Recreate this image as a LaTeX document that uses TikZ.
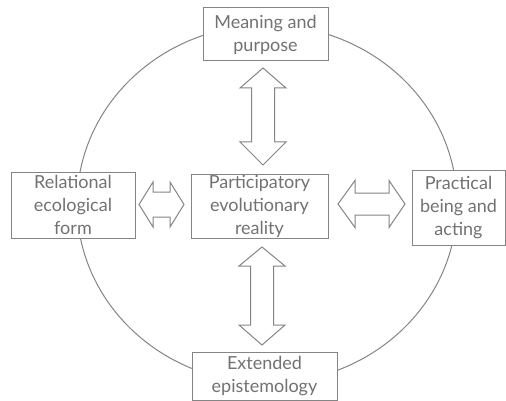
\documentclass[tikz,border=0pt]{standalone}
\usepackage{fontspec}
\setmainfont{Lato}
\definecolor{txtgray}{HTML}{727272}
\definecolor{linegray}{HTML}{858585}
\tikzset{
  box/.style={draw=linegray, line width=1pt, fill=white, align=center,
    text=txtgray, inner sep=0pt,
    font=\fontsize{18}{23}\selectfont},
  dbl/.style={draw=linegray, line width=1pt, fill=white, line join=miter},
  ring/.style={draw=linegray, line width=1pt}
}
\begin{document}
\begin{tikzpicture}[x=1pt,y=-1pt]
\useasboundingbox (0,0) rectangle (506,401);
\fill[white] (0,0) rectangle (506,401);
% circle
\draw[ring] (267,204) ellipse [x radius=190, y radius=179];
% boxes
\node[box, minimum width=125pt, minimum height=53pt] (top) at (265.5,34.5) {Meaning and\\purpose};
\node[box, minimum width=124pt, minimum height=66pt] (left) at (73,205) {Relational\\ecological\\form};
\node[box, minimum width=137pt, minimum height=64pt] (mid) at (259.5,206) {Participatory\\evolutionary\\reality};
\node[box, minimum width=93pt, minimum height=75pt] (right) at (458.5,207.5) {Practical\\being and\\acting};
\node[box, minimum width=145pt, minimum height=48pt] (bot) at (264.5,376.5) {Extended\\epistemology};
% vertical double arrows (tip, head base, shaft, head base, tip)
\draw[dbl] (263,68) -- (286,88) -- (274.5,88) -- (274.5,142) -- (286,142) -- (263,165)
  -- (240,142) -- (251.5,142) -- (251.5,88) -- (240,88) -- cycle;
\draw[dbl] (262,247) -- (285,266) -- (273.5,266) -- (273.5,325) -- (285,325) -- (262,345)
  -- (239,325) -- (250.5,325) -- (250.5,266) -- (239,266) -- cycle;
% horizontal double arrows
\draw[dbl] (139,204.5) -- (153,182) -- (153,192) -- (170,192) -- (170,182) -- (184,204.5)
  -- (170,227) -- (170,217) -- (153,217) -- (153,227) -- cycle;
\draw[dbl] (338,204) -- (355,180.5) -- (355,193) -- (389,193) -- (389,180.5) -- (405,204)
  -- (389,227.5) -- (389,215) -- (355,215) -- (355,227.5) -- cycle;
\end{tikzpicture}
\end{document}
